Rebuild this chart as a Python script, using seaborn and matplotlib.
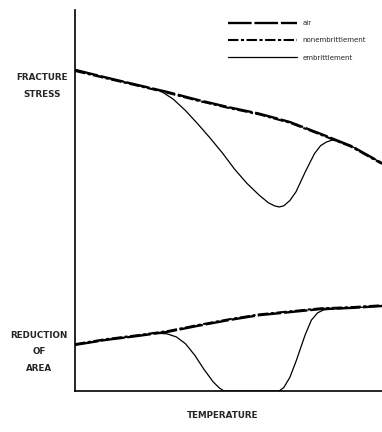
import matplotlib
matplotlib.use("Agg")
import matplotlib.pyplot as plt
from matplotlib.lines import Line2D
import seaborn as sns
import pandas as pd

# ---- data (schematic; x = temperature 0..100, y = 0..100) ----
temp_base = [0, 10, 20, 30, 40, 50, 60, 70, 80, 90, 100]
stress_air = [84.3, 82.3, 80.4, 78.5, 76.4, 74.5, 72.8, 70.6, 67.5, 64.3, 59.8]
stress_nonembr = [84.0, 82.1, 80.2, 78.3, 76.2, 74.3, 72.6, 70.4, 67.3, 64.1, 59.6]

temp_embr_stress = [0, 10, 20, 28, 32, 36, 40, 44, 48, 52, 56, 60, 63, 65, 66.5, 68,
                    70, 72, 75, 78, 80, 82, 84, 90, 100]
stress_embr = [84.3, 82.3, 80.4, 78.7, 76.6, 73.6, 70.1, 66.4, 62.5, 58.2, 54.5, 51.4,
               49.4, 48.6, 48.3, 48.6, 50.0, 52.3, 57.5, 62.3, 64.4, 65.4, 65.9, 64.3, 59.8]

ra_air = [12.1, 13.4, 14.4, 15.5, 17.1, 18.6, 19.9, 20.7, 21.5, 21.8, 22.3]
ra_nonembr = [12.3, 13.6, 14.6, 15.7, 17.3, 18.8, 20.1, 20.9, 21.7, 22.0, 22.5]

temp_embr_ra = [0, 10, 20, 26, 30, 33, 36, 39, 42, 45, 47, 48.5, 66.5, 68, 70, 72, 75,
                77, 79, 81, 90, 100]
ra_embr = [12.1, 13.4, 14.4, 15.2, 15.0, 14.2, 12.4, 9.4, 5.7, 2.4, 0.8, 0.0, 0.0,
           0.9, 3.6, 7.8, 14.8, 18.6, 20.5, 21.3, 21.8, 22.3]

series_names = ["air", "nonembrittlement", "embrittlement"]
y_labels = ["FRACTURE\nSTRESS", "REDUCTION\nOF\nAREA"]
x_label = "TEMPERATURE"

# ---- figure ----
sns.set_style("white")
W, H = 382, 432
fig = plt.figure(figsize=(W / 100, H / 100), dpi=100)
ax = fig.add_axes([75 / W, 1 - 391 / H, (W - 75) / W, 381 / H])

styles = {
    "air": dict(color="black", lw=1.7, dashes=(10, 1.2)),
    "nonembrittlement": dict(color="black", lw=1.5, dashes=(5, 1.2, 1.5, 1.2)),
    "embrittlement": dict(color="black", lw=0.9),
}

def draw(x, y, name):
    st = dict(styles[name])
    dashes = st.pop("dashes", None)
    df = pd.DataFrame({"temperature": x, "value": y})
    sns.lineplot(data=df, x="temperature", y="value", ax=ax, sort=False,
                 color=st["color"], linewidth=st["lw"])
    ax.lines[-1].set_solid_joinstyle("round")
    if dashes is not None:
        ax.lines[-1].set_dashes(dashes)

draw(temp_base, stress_air, "air")
draw(temp_base, stress_nonembr, "nonembrittlement")
draw(temp_embr_stress, stress_embr, "embrittlement")
draw(temp_base, ra_air, "air")
draw(temp_base, ra_nonembr, "nonembrittlement")
draw(temp_embr_ra, ra_embr, "embrittlement")

ax.set_xlim(0, 100)
ax.set_ylim(0, 100)
ax.set_xticks([])
ax.set_yticks([])
ax.set_xlabel("")
ax.set_ylabel("")
for s in ["top", "right"]:
    ax.spines[s].set_visible(False)
for s in ["left", "bottom"]:
    ax.spines[s].set_color("black")
    ax.spines[s].set_linewidth(1.2)

# legend
handles = []
for name in series_names:
    st = dict(styles[name])
    dashes = st.pop("dashes", None)
    h = Line2D([0], [0], color=st["color"], lw=st["lw"])
    if dashes is not None:
        h.set_dashes(dashes)
    handles.append(h)
leg = fig.legend(handles, series_names, loc="upper left",
                 bbox_to_anchor=(228 / W, 1 - 20 / H), frameon=False,
                 fontsize=5, handlelength=9.9, handletextpad=0.8,
                 labelspacing=1.62, borderpad=0, borderaxespad=0)

# axis labels as free text
lab_kw = dict(fontsize=6.3, fontweight="bold", ha="center", va="center",
              family="DejaVu Sans", linespacing=2.1)
fig.text(42 / W, 1 - 86 / H, y_labels[0], **lab_kw)
fig.text(39 / W, 1 - 352 / H, y_labels[1], **lab_kw)
fig.text(223 / W, 1 - 415 / H, x_label, **lab_kw)

fig.savefig("out.png", dpi=100)
